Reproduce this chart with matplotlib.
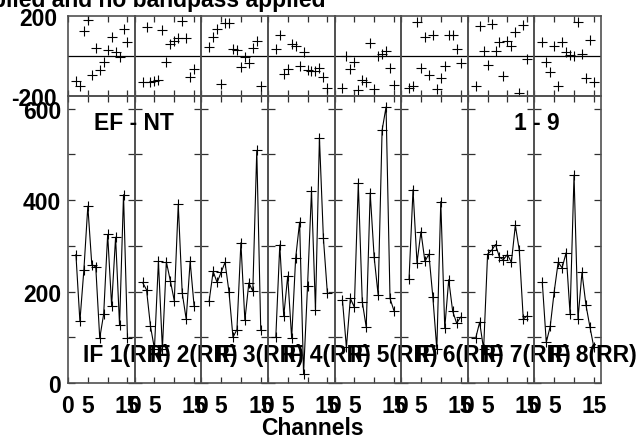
import matplotlib
matplotlib.use('Agg')
import matplotlib.pyplot as plt

channels = list(range(2, 16))
if_labels = ['IF 1(RR)', 'IF 2(RR)', 'IF 3(RR)', 'IF 4(RR)',
             'IF 5(RR)', 'IF 6(RR)', 'IF 7(RR)', 'IF 8(RR)']
xtick_vals = [0, 5, 10, 15]
xtick_labels = ['0', '5', '', '15']

amp_if1 = [281, 135, 247, 387, 259, 254, 98, 151, 325, 169, 319, 126, 412, 98]
amp_if2 = [220, 204, 124, 75, 266, 75, 265, 224, 180, 391, 197, 140, 266, 168]
amp_if3 = [180, 244, 220, 242, 264, 199, 100, 117, 307, 137, 219, 201, 509, 117]
amp_if4 = [100, 302, 146, 234, 98, 273, 352, 20, 212, 420, 160, 537, 317, 197]
amp_if5 = [182, 78, 185, 166, 437, 178, 122, 416, 275, 193, 553, 604, 185, 158]
amp_if6 = [228, 423, 263, 331, 266, 282, 188, 74, 397, 120, 226, 157, 131, 144]
amp_if7 = [98, 133, 74, 282, 290, 303, 275, 270, 281, 264, 345, 290, 140, 147]
amp_if8 = [220, 89, 124, 200, 264, 252, 285, 151, 455, 140, 242, 171, 123, 78]

phase_if1 = [-123, -152, 127, 182, -95, 38, -70, -32, 32, 93, 22, -7, 135, 68]
phase_if2 = [-132, 143, -132, -123, -120, 130, -28, 60, 77, 90, 177, 90, -107, -65]
phase_if3 = [47, 97, 135, -140, 165, 163, 35, 32, -57, -7, -35, 38, 77, -152]
phase_if4 = [35, 105, -90, -65, 60, 52, -48, 22, -68, -73, -73, -62, -107, -162]
phase_if5 = [-162, -2, -65, -32, -168, -120, -128, 63, -165, 2, 10, 27, -62, -145]
phase_if6 = [-162, -152, 172, -62, 93, -95, 105, -165, -112, -48, 105, 105, 35, -35]
phase_if7 = [-152, 152, 27, -43, 160, 27, 72, -102, 77, 52, 122, -185, 155, -15]
phase_if8 = [72, -28, -78, 52, -148, 68, 18, 5, 2, 168, 10, -112, 82, -132]

amps = [amp_if1, amp_if2, amp_if3, amp_if4, amp_if5, amp_if6, amp_if7, amp_if8]
phases = [phase_if1, phase_if2, phase_if3, phase_if4, phase_if5, phase_if6, phase_if7, phase_if8]

plt.rcParams['font.family'] = ['Liberation Sans', 'DejaVu Sans']
plt.rcParams['font.weight'] = 'bold'

W, H = 643, 439
fig = plt.figure(figsize=(W / 100, H / 100), dpi=100)
fig.patch.set_facecolor('white')

left_px, right_px = 68, 601
ptop, pmid, pbot = 17, 97, 384
n = 8
pw = (right_px - left_px) / n
fs = 16.5
frame_col = '#505050'

for i in range(n):
    x0 = (left_px + i * pw) / W
    axb = fig.add_axes([x0, 1 - pbot / H, pw / W, (pbot - pmid) / H])
    axt = fig.add_axes([x0, 1 - pmid / H, pw / W, (pmid - ptop) / H])
    for ax in (axb, axt):
        ax.set_facecolor('none')
        ax.set_xlim(0, 16.8)
        ax.set_xticks(xtick_vals)
        for s in ax.spines.values():
            s.set_color(frame_col)
            s.set_linewidth(1.2)
        ax.tick_params(axis='x', direction='in', top=True, bottom=True,
                       length=4, width=0.9, color='#303030')
    # amplitude panel
    axb.set_ylim(0, 628)
    axb.set_yticks([0, 100, 200, 300, 400, 500, 600])
    axb.tick_params(axis='y', direction='in', left=True, right=True,
                    length=5, width=0.9, color='#303030', pad=5, labelsize=fs)
    if i == 0:
        axb.set_yticklabels(['0', '', '200', '', '400', '', '600'], fontweight='bold')
    else:
        axb.set_yticklabels([])
    axb.set_xticklabels(xtick_labels, fontsize=fs, fontweight='bold')
    axb.tick_params(axis='x', pad=8)
    axb.plot(channels, amps[i], color='black', lw=0.8, marker='+', ms=7.5, mew=0.8)
    axb.text(15 / pw, (pbot - 356) / (pbot - pmid), if_labels[i], transform=axb.transAxes,
             ha='left', va='center', fontsize=fs, fontweight='bold', clip_on=False)
    # phase panel
    axt.set_ylim(-200, 200)
    axt.set_yticks([-200, 200])
    axt.tick_params(axis='y', length=0, pad=8, labelsize=fs)
    if i == 0:
        axt.set_yticklabels(['-200', '200'], fontweight='bold')
    else:
        axt.set_yticklabels([])
    axt.set_xticklabels([])
    axt.axhline(0, color='black', lw=0.9)
    axt.plot(channels, phases[i], ls='none', marker='+', ms=7.5, mew=0.8, color='black')

fig.text(134 / W, 1 - 124 / H, 'EF - NT', ha='center', va='center', fontsize=fs, fontweight='bold')
fig.text(537 / W, 1 - 124 / H, '1 - 9', ha='center', va='center', fontsize=fs, fontweight='bold')
fig.text(312 / W, 1 - 429 / H, 'Channels', ha='center', va='center', fontsize=fs, fontweight='bold')
fig.text(325 / W, 1 - 7.5 / H, 'Calibration applied and no bandpass applied',
         ha='right', va='baseline', fontsize=fs, fontweight='bold')

fig.savefig('out.png', dpi=100)
